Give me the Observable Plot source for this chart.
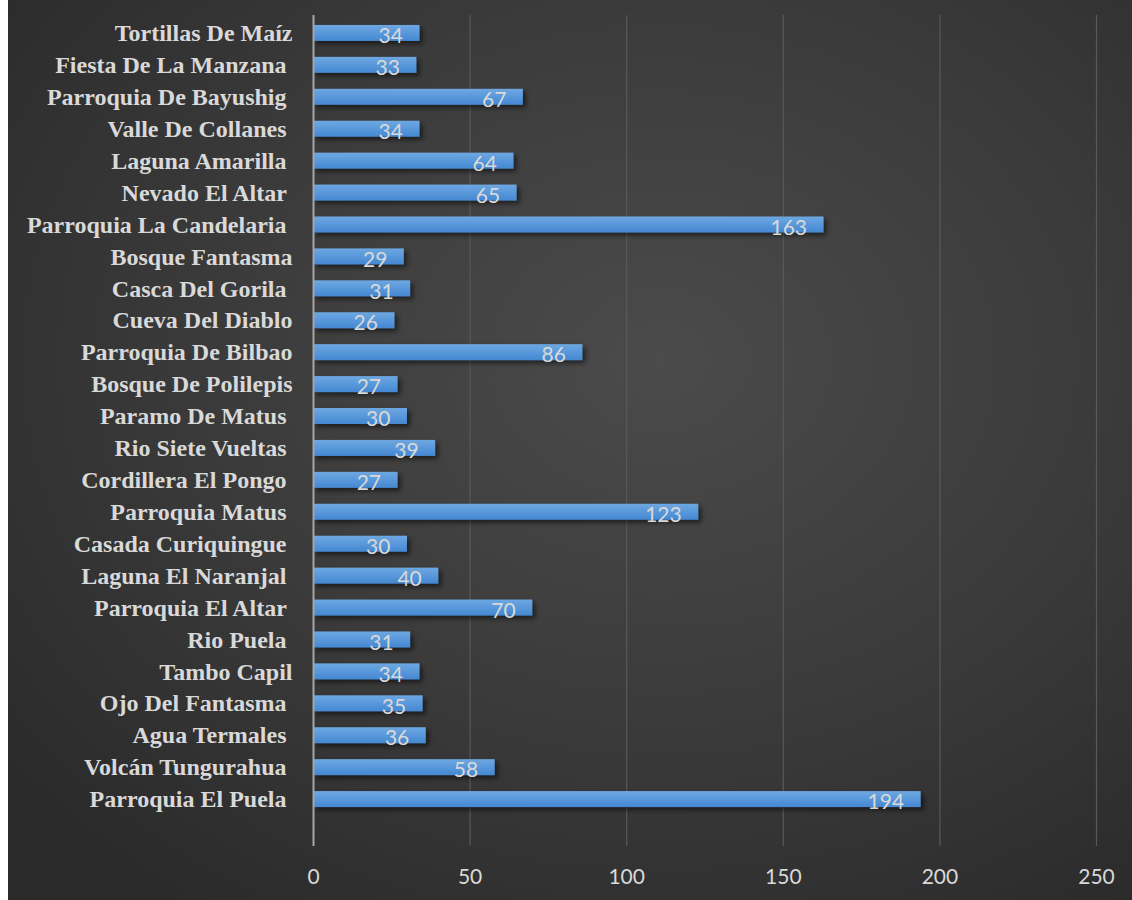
<!DOCTYPE html>
<html>
<head>
<meta charset="utf-8">
<script src="https://cdn.jsdelivr.net/npm/d3@7"></script>
<script src="https://cdn.jsdelivr.net/npm/@observablehq/plot@0.6"></script>
<style>
  html, body { margin: 0; padding: 0; background: #ffffff; }
  #wrap { padding-left: 8px; width: 1124px; height: 900px; }
  #wrap svg { display: block; }
  .ylab text { white-space: pre; }
</style>
</head>
<body>
<div id="wrap"></div>
<script>
// Categories, top to bottom as shown (trailing spaces kept as in the source labels)
const categories = [
  "Tortillas De Maíz",
  "Fiesta De La Manzana ",
  "Parroquia De Bayushig ",
  "Valle De Collanes ",
  "Laguna Amarilla ",
  "Nevado El Altar ",
  "Parroquia La Candelaria ",
  "Bosque Fantasma",
  "Casca Del Gorila ",
  "Cueva Del Diablo",
  "Parroquia De Bilbao",
  "Bosque De Polilepis",
  "Paramo De Matus ",
  "Rio Siete Vueltas ",
  "Cordillera El Pongo ",
  "Parroquia Matus ",
  "Casada Curiquingue ",
  "Laguna El Naranjal ",
  "Parroquia El Altar ",
  "Rio Puela ",
  "Tambo Capil",
  "Ojo Del Fantasma ",
  "Agua Termales ",
  "Volcán Tungurahua ",
  "Parroquia El Puela "
];
const values = [34, 33, 67, 34, 64, 65, 163, 29, 31, 26, 86, 27, 30, 39, 27, 123, 30, 40, 70, 31, 34, 35, 36, 58, 194];
const xTicks = [0, 50, 100, 150, 200, 250];

const data = categories.map((c, i) => ({category: c, value: values[i]}));

const chart = Plot.plot({
  width: 1124,
  height: 900,
  marginLeft: 305,
  marginRight: 36,
  marginTop: 15,
  marginBottom: 54,
  style: {
    background: "radial-gradient(ellipse 75% 75% at 58% 40%, #4b4b4b 0%, #3a3a3a 55%, #2a2a2a 100%)",
    color: "#d9d9d9",
    overflow: "visible"
  },
  x: {domain: [0, 250], ticks: xTicks},
  y: {domain: categories, range: [9, 823], padding: 0.5, round: false},
  marks: [
    Plot.ruleX(xTicks.filter(d => d > 0), {stroke: "#595959", strokeWidth: 1.2, y1: null, y2: null}),
    Plot.barX(data, {x: "value", y: "category", fill: "url(#barGrad)"}),
    Plot.ruleX([0], {stroke: "#a6a6a6", strokeWidth: 2}),
    Plot.text(data, {
      x: "value", y: "category", text: d => String(d.value),
      textAnchor: "end", dx: -17, dy: 3,
      fill: "#d9d9d9", fontSize: 21, fontFamily: "Lato, 'Open Sans', sans-serif"
    }),
    Plot.axisX({
      ticks: xTicks, tickSize: 0, tickPadding: 23, label: null,
      fontSize: 21, fontFamily: "Lato, 'Open Sans', sans-serif", fill: "#d9d9d9", stroke: null
    }),
    Plot.axisY({
      tickSize: 0, tickPadding: 21, label: null, className: "ylab",
      fontSize: 24, fontWeight: "bold", fontFamily: "'Liberation Serif', 'Times New Roman', serif",
      fill: "#d9d9d9"
    })
  ]
});

// gradient + shadow definitions for the bars
const svg = d3.select(chart);
const defs = svg.insert("defs", ":first-child");
const g = defs.append("linearGradient").attr("id", "barGrad").attr("x1", 0).attr("y1", 0).attr("x2", 0).attr("y2", 1);
g.append("stop").attr("offset", "0%").attr("stop-color", "#6ea8e2");
g.append("stop").attr("offset", "100%").attr("stop-color", "#4488d2");
const f = defs.append("filter").attr("id", "barShadow").attr("x", "-5%").attr("y", "-30%").attr("width", "115%").attr("height", "190%");
f.append("feDropShadow").attr("dx", 3).attr("dy", 3).attr("stdDeviation", 2.5).attr("flood-color", "#000").attr("flood-opacity", 0.55);
svg.selectAll("rect").filter(function() { return this.getAttribute("fill") === "url(#barGrad)" || (this.parentNode && this.parentNode.getAttribute("fill") === "url(#barGrad)"); })
  .attr("filter", "url(#barShadow)");

document.getElementById("wrap").appendChild(chart);
</script>
</body>
</html>
